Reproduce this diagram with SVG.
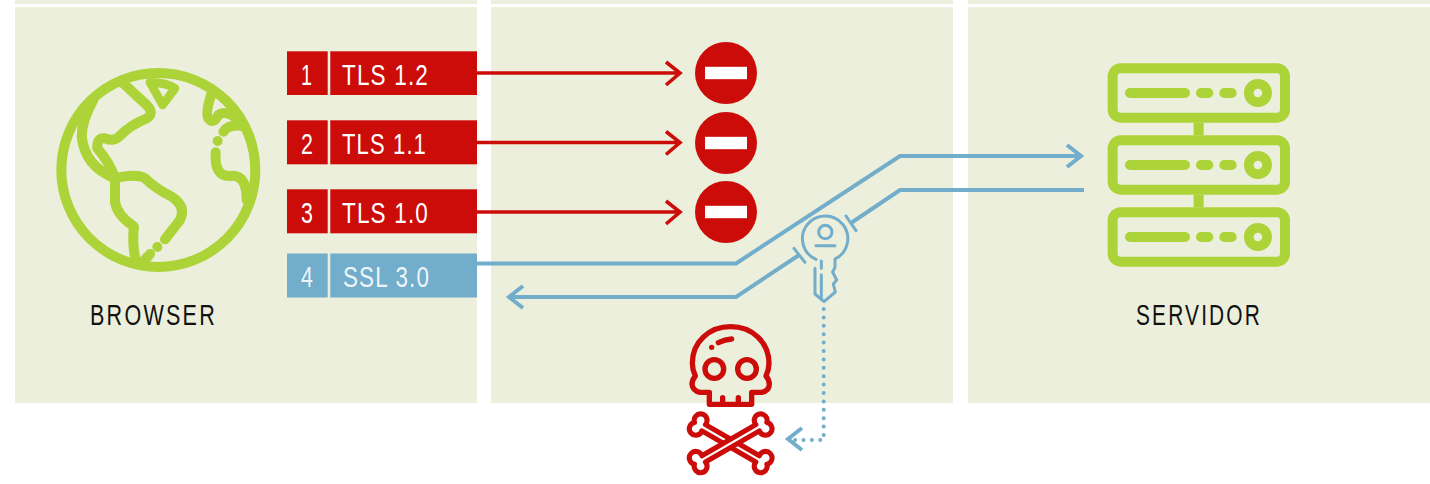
<svg xmlns="http://www.w3.org/2000/svg" width="1430" height="484" viewBox="0 0 1430 484">
<style>
.panel{fill:#ecefdb}
.red{fill:#cc0c08}
.blue{fill:#72aecb}
.t{font-family:"Liberation Sans",Arial,sans-serif;font-size:29px;fill:#fff;letter-spacing:1.500px}
.lab{font-family:"Liberation Sans",Arial,sans-serif;font-size:29px;fill:#111;letter-spacing:3px}
.g{fill:none;stroke:#acd337;stroke-linecap:round;stroke-linejoin:round}
.rl{fill:none;stroke:#cc0c08;stroke-width:3.6}
.bl{fill:none;stroke:#72aecb;stroke-width:4}
.k{fill:none;stroke:#72aecb;stroke-width:9;stroke-linecap:round;stroke-linejoin:round}
.s{fill:none;stroke:#cc0c08;stroke-width:16;stroke-linecap:round;stroke-linejoin:round}
</style>
<defs>
<g id="srv"><rect x="128" y="0" width="517" height="148" rx="24" class="g" stroke-width="30"/><path d="M180 74H345M393 74H415M463 74H485" class="g" stroke-width="30"/><circle cx="564" cy="74" r="27.500" class="g" stroke-width="29"/></g>
<g id="stop"><circle r="31" class="red"/><rect x="-21" y="-6.200" width="42" height="12.400" fill="#fff"/></g>
<path id="bone" d="M-82-9.500H82A17 17 0 1 1 110 0A17 17 0 1 1 82 9.500H-82A17 17 0 1 1-110 0A17 17 0 1 1-82-9.500Z" fill="#fff" stroke="#cc0c08" stroke-width="13.500" stroke-linejoin="round"/>
</defs>
<g id="panels">
<rect class="panel" x="15" y="0" width="462" height="403"/>
<rect class="panel" x="491" y="0" width="462" height="403"/>
<rect class="panel" x="968" y="0" width="462" height="403"/>
<rect x="0" y="4" width="1430" height="3" fill="#fff"/>
</g>
<g id="connectors">
<path class="rl" d="M477 73H678M666 62L680 73L666 85"/>
<path class="rl" d="M477 142.500H678M666 131.500L680 142.500L666 154.500"/>
<path class="rl" d="M477 212H678M666 201L680 212L666 224"/>
<path class="bl" d="M477 263.500H736L900 156H1080M1067 145L1081 156L1067 167"/>
<path class="bl" d="M1084 190H900L851 223"/>
<path class="bl" d="M511 297H736L799 255M523 286L509 297L523 308"/>
<path d="M823.700 309V440H792" fill="none" stroke="#72aecb" stroke-width="4" stroke-linecap="round" stroke-dasharray="0 8.400"/>
<path class="bl" d="M802 428L788 439L802 450"/>
</g>
<g id="browser">
<g transform="translate(40 50) scale(.3333)">
<circle cx="355" cy="360" r="291" class="g" stroke-width="30"/>
<path class="g" stroke-width="30" d="M250 100L320 165Q345 190 320 205Q270 225 235 262Q220 275 195 265Q170 262 172 295Q210 340 225 385Q225 420 225 455Q230 495 282 530Q275 590 290 640"/>
<path class="g" stroke-width="30" d="M160 150Q125 215 125 260Q135 350 225 385Q290 370 315 385Q345 415 395 440Q440 470 420 510L375 568"/>
<path class="g" stroke-width="30" d="M330 612L305 640"/>
<circle cx="352" cy="591" r="15" fill="#acd337"/>
<path class="g" stroke-width="26" d="M330 97Q380 98 405 115L368 165Z"/>
<path class="g" stroke-width="30" d="M515 130Q495 190 505 205Q520 225 535 195Q555 180 590 205"/>
<path class="g" stroke-width="30" d="M550 245Q565 222 610 228"/>
<circle cx="533" cy="273" r="15" fill="#acd337"/>
<path class="g" stroke-width="30" d="M527 307Q522 380 570 378Q620 370 620 450"/>
</g>
<text class="lab" x="90" y="325" textLength="127" lengthAdjust="spacingAndGlyphs">BROWSER</text>
</g>
<g id="opt1"><rect class="red" x="287" y="51.300" width="40.700" height="43.700"/><rect class="red" x="330.300" y="51.300" width="146.700" height="43.700"/><text class="t" x="301" y="84.500" textLength="12" lengthAdjust="spacingAndGlyphs">1</text><text class="t" x="342" y="84.500" textLength="87" lengthAdjust="spacingAndGlyphs">TLS 1.2</text></g>
<g id="opt2"><rect class="red" x="287" y="120.300" width="40.700" height="44"/><rect class="red" x="330.300" y="120.300" width="146.700" height="44"/><text class="t" x="301" y="153.500" textLength="13" lengthAdjust="spacingAndGlyphs">2</text><text class="t" x="342" y="153.500" textLength="85" lengthAdjust="spacingAndGlyphs">TLS 1.1</text></g>
<g id="opt3"><rect class="red" x="287" y="189.300" width="40.700" height="44"/><rect class="red" x="330.300" y="189.300" width="146.700" height="44"/><text class="t" x="301" y="222.500" textLength="13" lengthAdjust="spacingAndGlyphs">3</text><text class="t" x="342" y="222.500" textLength="87" lengthAdjust="spacingAndGlyphs">TLS 1.0</text></g>
<g id="opt4"><rect class="blue" x="287" y="253.500" width="40.700" height="44"/><rect class="blue" x="330.300" y="253.500" width="146.700" height="44"/><text class="t" x="301" y="287" textLength="13" lengthAdjust="spacingAndGlyphs" fill-opacity=".9">4</text><text class="t" x="343" y="287" textLength="87" lengthAdjust="spacingAndGlyphs" fill-opacity=".9">SSL 3.0</text></g>
<g id="stop1"><use href="#stop" x="726" y="73"/></g>
<g id="stop2"><use href="#stop" x="726" y="143"/></g>
<g id="stop3"><use href="#stop" x="726" y="212"/></g>
<g id="key" transform="translate(720 200) scale(.3333)">
<path class="k" d="M288 178A68 68 0 1 1 345 177V202L338 216L350 240L340 252L346 276L312 305L285 282V205"/>
<circle cx="316" cy="96" r="20" class="k"/>
<path class="k" d="M288 137H345M304 183V205M304 224V298M222 145L255 187M378 48L408 92"/>
</g>
<g id="skull" transform="translate(670 315) scale(.3333)">
<path class="s" d="M118 232V268H245V232H275Q298 228 298 208Q298 195 288 183Q297 165 297 145C297 80 245 35 182 35C118 35 67 80 67 145Q67 165 76 183Q66 195 66 208Q68 228 90 232Z"/>
<path class="s" d="M158 248V268M205 248V268M145 83Q165 73 185 72"/>
<circle cx="125" cy="97" r="8" fill="#cc0c08"/>
<circle cx="133" cy="162" r="28" class="s"/>
<circle cx="231" cy="162" r="28" class="s"/>
<use href="#bone" transform="translate(182 385) rotate(30) scale(1.14)"/>
<use href="#bone" transform="translate(182 385) rotate(-30) scale(1.14)"/>
</g>
<g id="server">
<g transform="translate(1070 50) scale(.3333)">
<use href="#srv" y="55"/><use href="#srv" y="271"/><use href="#srv" y="487"/>
<path d="M386 218V256M386 434V472" class="g" stroke-width="30" style="stroke-linecap:butt"/>
</g>
<text class="lab" x="1136" y="325" textLength="126" lengthAdjust="spacingAndGlyphs">SERVIDOR</text>
</g>
</svg>
